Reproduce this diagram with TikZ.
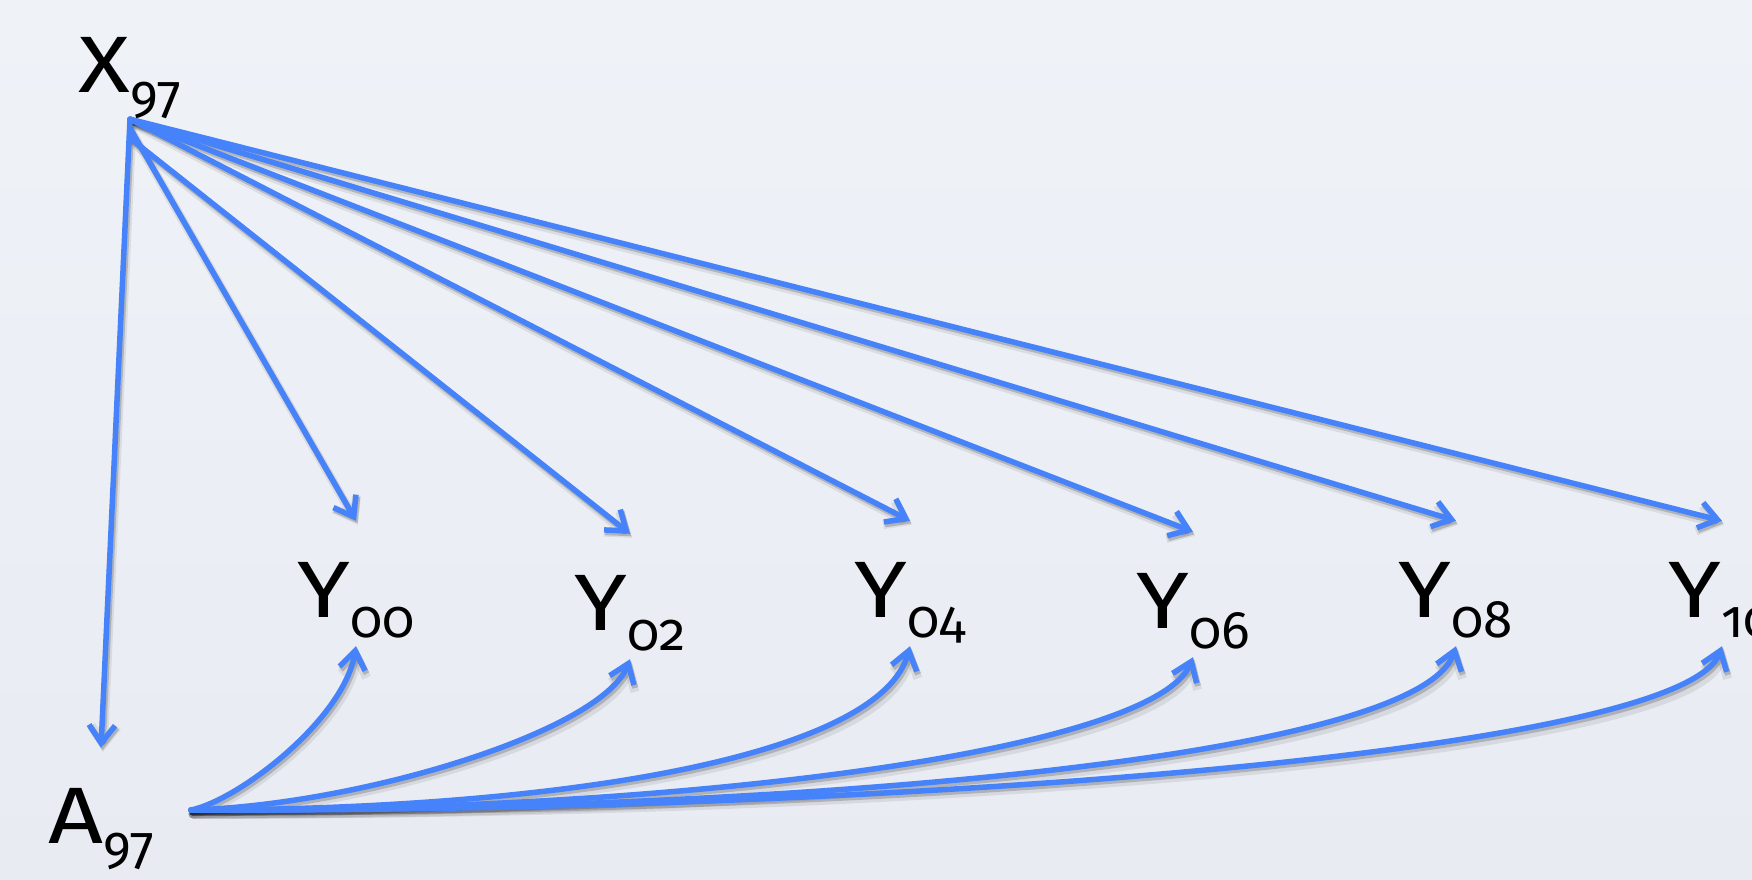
\documentclass[tikz,border=0pt]{standalone}
\usepackage{fontspec}
\setmainfont{Fira Sans}[Numbers=OldStyle]
\usetikzlibrary{arrows.meta}
\definecolor{lineblue}{RGB}{70,130,250}
\definecolor{bgtop}{RGB}{239,242,247}
\definecolor{bgbot}{RGB}{232,235,242}
\newcommand\lblsub[2]{\scalebox{1.2}[1]{#1}\raisebox{-20pt}{\fontsize{53}{53}\selectfont #2}}
\newcommand\drawall[1]{%
\draw[#1] (X.south) -- (A.north);
\draw[#1] ([yshift=-9pt]X.south) -- (Y00.north);
\draw[#1] ([yshift=-19pt]X.south) -- (Y02.north);
\draw[#1] (X.south) -- (Y04.north);
\draw[#1] (X.south) -- (Y06.north);
\draw[#1] (X.south) -- (Y08.north);
\draw[#1] (X.south) -- (Y10.north);
\draw[#1] (A.east) .. controls +(48,-10) and +(-12,73) .. (Y00.south);
\draw[#1] (A.east) .. controls +(170,-5) and +(-28,72) .. (Y02.south);
\draw[#1] (A.east) .. controls +(358,0) and +(-30,113) .. (Y04.south);
\draw[#1] (A.east) .. controls +(508,2) and +(-37,92) .. (Y06.south);
\draw[#1] (A.east) .. controls +(608,2) and +(-36,112) .. (Y08.south);
\draw[#1] (A.east) .. controls +(708,2) and +(-38,107) .. (Y10.south);
}
\begin{document}
\begin{tikzpicture}[x=1pt,y=-1pt,
  lbl/.style={inner sep=0pt, font=\fontsize{80}{80}\selectfont, text height=96pt, text depth=29pt, anchor=base},
  conn/.style={draw=lineblue, line width=5.5pt, line cap=round, line join=round,
     -{Straight Barb[length=18pt,width=26pt]}},
  shadowwide/.style={draw=black, opacity=0.08, line width=9pt, line cap=round, line join=round,
     -{Straight Barb[length=18pt,width=26pt]}},
  shadowline/.style={draw=black, opacity=0.18, line width=6pt, line cap=round, line join=round,
     -{Straight Barb[length=18pt,width=26pt]}},
]
\useasboundingbox (0,0) rectangle (1752,879);
\shade[top color=bgtop, bottom color=bgbot] (0,0) rectangle (1752,879);

\node[lbl, text height=55pt, text depth=27pt] (X) at (130,92) {\lblsub{X}{97}};
\node[lbl, text height=95pt, inner xsep=37pt] (A) at (101,843) {\lblsub{A}{97}};
\node[lbl] (Y00) at (356,617) {\lblsub{Y}{00}};
\node[lbl] (Y02) at (630,630) {\lblsub{Y}{02}};
\node[lbl] (Y04) at (910,617) {\lblsub{Y}{04}};
\node[lbl] (Y06) at (1193,628) {\lblsub{Y}{06}};
\node[lbl] (Y08) at (1456,617) {\lblsub{Y}{08}};
\node[lbl] (Y10) at (1722,617) {\lblsub{Y}{10}};

\begin{scope}[transform canvas={shift={(2pt,-4pt)}}]
\drawall{shadowwide}
\end{scope}
\begin{scope}[transform canvas={shift={(1.5pt,-2.5pt)}}]
\drawall{shadowline}
\end{scope}
\drawall{conn}
\end{tikzpicture}
\end{document}
